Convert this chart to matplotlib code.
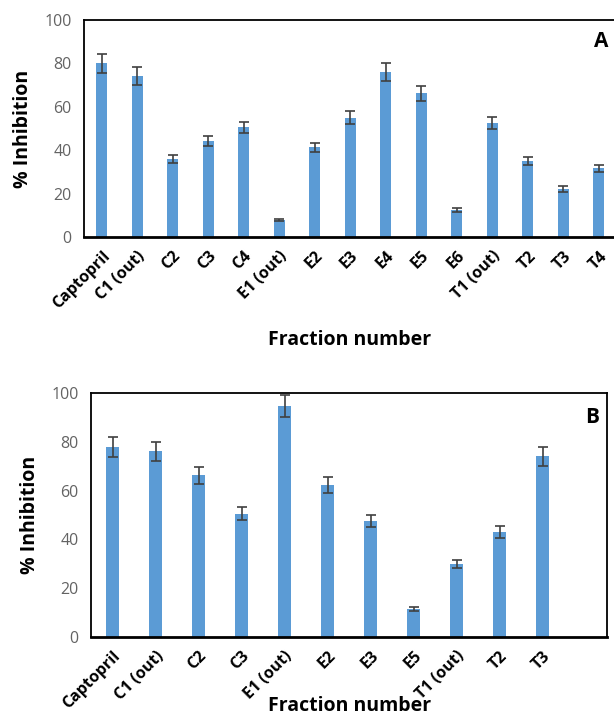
import matplotlib
matplotlib.use("Agg")
import matplotlib.pyplot as plt
import numpy as np

plt.rcParams['font.family'] = ['Open Sans', 'DejaVu Sans']

# panel A data
labels_a = ['Captopril', 'C1 (out)', 'C2', 'C3', 'C4', 'E1 (out)', 'E2', 'E3',
            'E4', 'E5', 'E6', 'T1 (out)', 'T2', 'T3', 'T4']
vals_a = [80.0, 74.2, 36.0, 44.2, 50.6, 7.7, 41.4, 55.0, 76.0, 66.3, 12.6,
          52.5, 35.0, 22.2, 31.7]
err_a = [4.2, 4.0, 2.0, 2.4, 2.6, 0.5, 2.1, 3.0, 4.0, 3.4, 0.9, 2.7, 1.9,
         1.3, 1.7]

# panel B data (last slot on the axis is empty)
labels_b = ['Captopril', 'C1 (out)', 'C2', 'C3', 'E1 (out)', 'E2', 'E3', 'E5',
            'T1 (out)', 'T2', 'T3']
vals_b = [77.9, 76.1, 66.3, 50.5, 94.8, 62.3, 47.5, 11.5, 30.0, 43.0, 74.0]
err_b = [4.0, 4.0, 3.4, 2.7, 4.5, 3.1, 2.5, 0.7, 1.6, 2.3, 3.8]

bar_color = '#5B9BD5'
err_color = '#404040'
tick_grey = '#636363'

fig = plt.figure(figsize=(6.14, 7.16), dpi=100)


def panel(ax, labels, vals, errs, nslots, letter):
    x = np.arange(len(labels))
    ax.bar(x, vals, width=0.31, color=bar_color, zorder=2)
    ax.errorbar(x, vals, yerr=errs, fmt='none', ecolor=err_color,
                elinewidth=1.2, capsize=3.5, capthick=1.2, zorder=3)
    ax.set_xlim(-0.5, nslots - 0.5)
    ax.set_ylim(0, 100)
    ax.set_yticks(range(0, 101, 20))
    ax.set_xticks(x)
    ax.set_xticklabels(labels, rotation=45, ha='right', rotation_mode='anchor',
                       fontsize=11.5, fontweight='bold', color='black')
    ax.tick_params(axis='both', length=0)
    ax.tick_params(axis='y', labelsize=11.5, labelcolor=tick_grey, pad=9)
    ax.tick_params(axis='x', pad=8)
    for s in ax.spines.values():
        s.set_linewidth(1.3)
        s.set_color('black')
    ax.spines['bottom'].set_linewidth(2)
    ax.set_ylabel('% Inhibition', fontsize=14, fontweight='bold', labelpad=8)
    ax.text(0.985, 0.9, letter, transform=ax.transAxes, ha='right',
            va='center', fontsize=15, fontweight='bold')


ax_a = fig.add_axes([84 / 614, 1 - 237 / 716, (616.5 - 84) / 614, 217 / 716])
panel(ax_a, labels_a, vals_a, err_a, 15, 'A')
fig.text(350 / 614, 1 - 340 / 716, 'Fraction number', ha='center',
         va='center', fontsize=14, fontweight='bold')

ax_b = fig.add_axes([91 / 614, 1 - 637 / 716, (607 - 91) / 614, 244 / 716])
panel(ax_b, labels_b, vals_b, err_b, 12, 'B')
fig.text(350 / 614, 1 - 706 / 716, 'Fraction number', ha='center',
         va='center', fontsize=14, fontweight='bold')

fig.savefig('out.png', dpi=100)
